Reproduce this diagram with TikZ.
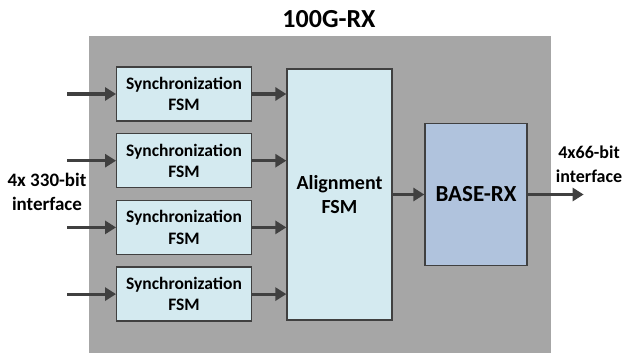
\documentclass[tikz,border=0pt]{standalone}
\usepackage{fontspec}
\setmainfont{Carlito}
\usepackage{tikz}
\usepackage{xcolor}
\usetikzlibrary{arrows.meta, positioning}
\definecolor{RXGray}{HTML}{A6A6A6}
\definecolor{RXLightBlue}{HTML}{D4EAF0}
\definecolor{RXSteel}{HTML}{B0C3DD}
\definecolor{RXDark}{HTML}{404040}

\begin{document}
\begin{tikzpicture}[x=1pt, y=-1pt, node distance=66.7pt, on grid, font=\bfseries,
    syncbox/.style={rectangle, draw=RXDark, line width=1.3pt, fill=RXLightBlue, align=center, minimum width=134.6pt, minimum height=54pt, inner sep=0pt, font=\fontsize{17.5}{21.5}\selectfont\bfseries},
    bigbox/.style={rectangle, draw=RXDark, line width=1.3pt, align=center, inner sep=0pt},
    flow/.style={-{Triangle[length=11pt, width=13pt]}, line width=3.2pt, draw=RXDark},
    lbl/.style={align=center, inner sep=0pt, font=\fontsize{18}{24}\selectfont\bfseries}]

        \useasboundingbox (0,0) rectangle (627,353);
        \fill[RXGray] (89,36) rectangle (551,353);
        \node[inner sep=0pt, font=\fontsize{26}{30}\selectfont\bfseries] (title) at (329,19) {100G-RX};

        \node[syncbox] (S1) at (184,94) {Synchronization\\FSM};
        \node[syncbox, below=of S1] (S2) {Synchronization\\FSM};
        \node[syncbox, below=of S2] (S3) {Synchronization\\FSM};
        \node[syncbox, below=of S3] (S4) {Synchronization\\FSM};

        \node[bigbox, fill=RXLightBlue, minimum width=105pt, minimum height=251pt, font=\fontsize{20}{24}\selectfont\bfseries] (align) at (339.5,194.5) {Alignment\\FSM};
        \node[bigbox, fill=RXSteel, right=136.5pt of align, minimum width=102pt, minimum height=142pt, font=\fontsize{23}{27}\selectfont\bfseries] (base) {BASE-RX};

        \node[lbl, font=\fontsize{19}{24}\selectfont\bfseries] (inlbl) at (47,192) {4x 330-bit\\interface};
        \node[lbl] (outlbl) at (589,164) {4x66-bit\\interface};

        \foreach \i in {1,...,4} {
            \coordinate[left=48.7pt of S\i.west] (in\i);
            \draw[flow] (in\i) -- (S\i.west);
            \draw[flow] (S\i.east) -- (S\i.east -| align.west);
        }
        \coordinate[right=56pt of base.east] (out);
        \draw[flow] (align.east |- base.west) -- (base.west);
        \draw[flow] (base.east) -- (out);

    \end{tikzpicture}
\end{document}
